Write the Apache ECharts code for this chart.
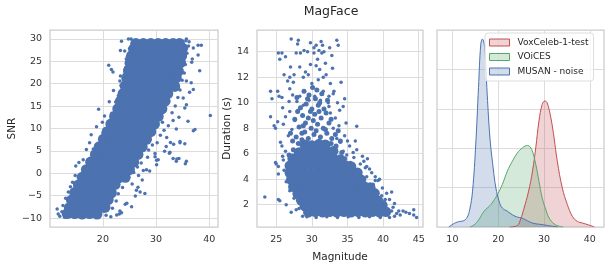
<!DOCTYPE html>
<html>
  <head>
    <meta charset="utf-8" />
    <title>MagFace</title>
    <script src="https://cdn.jsdelivr.net/npm/echarts@6/dist/echarts.min.js"></script>
  </head>
  <body style="margin:0">
    <div id="main" style="width:611px;height:268px;"></div>
    <script type="text/javascript">
      // tick labels
      var snrTicks = [-10, -5, 0, 5, 10, 15, 20, 25, 30];
      var magTicksA = [20, 30, 40];
      var magTicksB = [25, 30, 35, 40, 45];
      var durTicks = [2, 4, 6, 8, 10, 12, 14];
      var kdeXTicks = [10, 20, 30, 40];
      var kdeYTicks = [0.02, 0.04, 0.06, 0.08];

      // magnitude vs SNR: dense core + scattered points
      var snrDense = [
        [13.3,-9.0],[14.7,-9.0],[16.1,-9.1],[17.5,-9.0],[18.9,-9.1],
        [13.7,-7.7],[15.0,-7.8],[16.4,-7.6],[17.8,-7.7],[19.2,-7.8],[20.4,-7.6],
        [14.1,-6.0],[15.4,-6.1],[16.8,-5.9],[18.2,-6.0],[19.6,-6.1],[21.0,-5.9],
        [14.7,-4.3],[16.0,-4.2],[17.4,-4.4],[18.8,-4.3],[20.2,-4.2],[21.6,-4.4],
        [15.4,-2.6],[16.7,-2.7],[18.1,-2.5],[19.5,-2.6],[20.9,-2.7],[22.3,-2.5],
        [16.1,-0.9],[17.4,-0.8],[18.8,-1.0],[20.2,-0.9],[21.6,-0.8],[23.0,-1.0],[24.2,-0.9],
        [16.9,0.8],[18.3,0.9],[19.7,0.7],[21.1,0.8],[22.5,0.9],[23.9,0.7],[25.0,0.8],
        [17.7,2.5],[19.1,2.4],[20.5,2.6],[21.9,2.5],[23.3,2.4],[24.7,2.6],[25.8,2.5],
        [18.6,4.2],[19.9,4.3],[21.3,4.1],[22.7,4.2],[24.1,4.3],[25.5,4.1],[26.6,4.2],
        [19.3,5.9],[20.7,5.8],[22.1,6.0],[23.5,5.9],[24.9,5.8],[26.3,6.0],[27.4,5.9],
        [20.1,7.6],[21.5,7.7],[22.9,7.5],[24.3,7.6],[25.7,7.7],[27.1,7.5],[28.2,7.6],
        [20.8,9.3],[22.2,9.2],[23.6,9.4],[25.0,9.3],[26.4,9.2],[27.8,9.4],[29.0,9.3],
        [21.5,11.0],[22.9,11.1],[24.3,10.9],[25.7,11.0],[27.1,11.1],[28.5,10.9],[29.7,11.0],
        [22.2,12.7],[23.6,12.6],[25.0,12.8],[26.4,12.7],[27.8,12.6],[29.2,12.8],[30.4,12.7],
        [22.8,14.4],[24.2,14.5],[25.6,14.3],[27.0,14.4],[28.4,14.5],[29.8,14.3],[31.1,14.4],
        [23.3,16.1],[24.7,16.0],[26.1,16.2],[27.5,16.1],[28.9,16.0],[30.3,16.2],[31.7,16.1],
        [23.8,17.8],[25.2,17.9],[26.6,17.7],[28.0,17.8],[29.4,17.9],[30.8,17.7],[32.2,17.8],
        [24.2,19.5],[25.6,19.4],[27.0,19.6],[28.4,19.5],[29.8,19.4],[31.2,19.6],[32.6,19.5],[33.5,19.4],
        [24.5,21.2],[25.9,21.3],[27.3,21.1],[28.7,21.2],[30.1,21.3],[31.5,21.1],[32.9,21.2],[33.8,21.3],
        [24.8,22.9],[26.2,22.8],[27.6,23.0],[29.0,22.9],[30.4,22.8],[31.8,23.0],[33.2,22.9],[34.2,22.8],
        [25.1,24.6],[26.5,24.7],[27.9,24.5],[29.3,24.6],[30.7,24.7],[32.1,24.5],[33.5,24.6],[34.6,24.7],
        [25.4,26.3],[26.8,26.2],[28.2,26.4],[29.6,26.3],[31.0,26.2],[32.4,26.4],[33.8,26.3],[34.8,26.2],
        [25.8,27.8],[27.2,27.9],[28.6,27.7],[30.0,27.8],[31.4,27.9],[32.8,27.7],[34.2,27.8],[35.0,27.9],
        [26.2,29.0],[27.6,29.0],[29.0,29.0],[30.4,29.0],[31.8,29.0],[33.2,29.0],[34.4,29.0]
      ];
      var snrSparse = [
        [11.4,-8.0],[11.6,-9.1],[11.9,-9.6],[12.3,-8.6],[12.8,-9.8],[12.5,-7.2],[13.0,-5.6],[13.5,-4.2],
        [13.9,-3.0],[14.3,-2.0],[14.8,-0.5],[14.9,1.6],[15.5,2.4],[16.3,3.0],[16.9,5.3],[17.5,6.8],
        [18.2,5.4],[17.8,8.6],[18.8,10.4],[19.2,14.3],[19.9,11.4],[20.3,12.8],[21.1,24.1],[21.6,23.2],
        [21.9,22.6],[21.2,16.0],[22.0,18.5],[23.3,21.7],[23.2,20.6],[23.7,18.3],[23.3,27.4],[24.1,27.3],
        [23.5,29.5],[24.4,25.5],[25.3,30.0],[24.8,30.0],[35.7,30.0],[36.2,29.4],[37.0,28.0],[37.9,28.6],
        [38.5,28.6],[37.9,26.4],[36.8,25.5],[36.7,24.8],[38.2,22.9],[35.7,20.6],[36.6,20.2],[37.0,18.7],
        [36.3,18.1],[35.1,16.8],[35.7,15.3],[35.4,14.6],[36.0,11.6],[40.2,12.9],[37.0,9.5],[37.3,9.8],
        [33.8,9.9],[34.5,7.1],[35.4,6.6],[34.5,6.8],[33.3,6.5],[33.2,3.3],[34.3,3.3],[33.8,2.7],
        [35.7,2.7],[35.5,2.1],[33.9,3.2],[32.6,4.7],[31.6,4.9],[32.5,4.5],[31.9,6.0],[32.7,6.9],
        [30.1,1.9],[30.4,3.0],[29.8,3.7],[29.8,4.4],[30.1,2.9],[28.2,0.8],[28.8,0.5],[27.6,0.6],
        [26.7,-0.5],[27.4,-1.5],[26.6,-3.1],[26.3,-3.8],[27.0,-4.2],[27.9,-4.5],[26.1,-5.1],[25.4,-7.5],
        [24.5,-6.7],[24.2,-6.9],[23.2,-8.4],[23.5,-8.8],[22.6,-9.3],[23.1,-9.1],[22.5,-6.2],[21.5,-9.7],
        [20.6,-9.4],[20.2,-8.5],[21.8,-7.8],[22.9,-4.6],[23.7,-3.2],[24.6,-1.6],[25.5,-2.4],[25.8,0.2],
        [26.5,1.4],[27.2,2.3],[28.4,3.6],[28.6,5.2],[29.3,6.3],[30.2,6.8],[30.8,8.5],[31.5,9.6],
        [32.3,10.6],[33.2,11.8],[33.0,13.5],[33.6,15.0],[34.1,16.9],[34.5,18.6],[34.9,20.8],[35.3,22.4],
        [35.5,24.3],[35.8,26.8],[36.1,28.4],[35.6,29.6],[34.3,12.5],[31.2,11.4],[32.0,8.0],[34.0,21.5],
        [19.6,4.4],[18.7,2.2],[17.3,0.3],[16.4,-1.6],[15.6,-3.5],[20.6,7.5],[20.0,9.0],[21.1,10.6],
        [21.7,13.4],[22.4,15.9],[22.9,17.3],[23.4,19.6],[24.0,22.0],[24.3,23.6],[24.6,26.0],[25.0,27.8],
        [25.5,29.0]
      ];

      // magnitude vs duration
      var durDense = [
        [29.5,1.4],[30.5,1.45],[31.5,1.4],[32.5,1.45],[33.5,1.4],[34.5,1.45],[35.5,1.4],[36.5,1.45],[37.5,1.4],[38.5,1.45],[39.5,1.4],[40.4,1.45],
        [29.0,1.9],[30.0,1.85],[31.0,1.9],[32.0,1.95],[33.0,1.9],[34.0,1.85],[35.0,1.9],[36.0,1.95],[37.0,1.9],[38.0,1.85],[39.0,1.9],[39.9,1.95],
        [28.5,2.35],[29.5,2.4],[30.5,2.35],[31.5,2.3],[32.5,2.35],[33.5,2.4],[34.5,2.35],[35.5,2.3],[36.5,2.35],[37.5,2.4],[38.5,2.35],[39.3,2.3],
        [28.0,2.85],[29.0,2.8],[30.0,2.85],[31.0,2.9],[32.0,2.85],[33.0,2.8],[34.0,2.85],[35.0,2.9],[36.0,2.85],[37.0,2.8],[38.0,2.85],[38.8,2.9],
        [27.4,3.4],[28.4,3.45],[29.4,3.4],[30.4,3.35],[31.4,3.4],[32.4,3.45],[33.4,3.4],[34.4,3.35],[35.4,3.4],[36.4,3.45],[37.4,3.4],[38.2,3.35],
        [27.1,3.95],[28.0,3.9],[29.0,3.95],[30.0,4.0],[31.0,3.95],[32.0,3.9],[33.0,3.95],[34.0,4.0],[35.0,3.95],[36.0,3.9],[36.9,3.95],
        [26.9,4.5],[27.8,4.55],[28.8,4.5],[29.8,4.45],[30.8,4.5],[31.8,4.55],[32.8,4.5],[33.8,4.45],[34.8,4.5],[35.7,4.55],[36.4,4.5],
        [26.9,5.05],[27.8,5.0],[28.8,5.05],[29.8,5.1],[30.8,5.05],[31.8,5.0],[32.8,5.05],[33.8,5.1],[34.8,5.05],[35.5,5.0],
        [27.3,5.6],[28.0,5.65],[29.0,5.6],[30.0,5.55],[31.0,5.6],[32.0,5.65],[33.0,5.6],[34.0,5.55],
        [28.2,6.1],[29.2,6.15],[30.2,6.2],[31.2,6.15],[32.2,6.1],[33.0,6.2],
        [29.0,6.7],[30.0,6.65],[31.0,6.75],[31.9,6.7]
      ];
      // medium-density band above the core
      var durMid = [
        [27.8,7.3],[28.6,7.6],[29.5,7.2],[30.3,7.5],[31.2,7.3],[32.1,7.6],[32.8,7.2],[28.2,8.1],
        [29.1,8.4],[29.9,8.0],[30.8,8.3],[31.6,8.0],[32.4,8.4],[27.6,8.7],[28.7,9.0],[29.5,8.8],
        [30.4,9.1],[31.3,8.8],[32.0,9.2],[28.4,9.6],[29.2,9.9],[30.0,9.5],[30.9,9.8],[31.7,9.5],
        [29.6,10.6],[30.5,10.3],[31.4,10.7],[28.9,10.9],[30.1,11.2],[29.0,7.7],[31.9,7.9],[30.6,7.8],
        [27.3,7.0],[33.3,7.5],[28.0,9.3],[32.7,8.7],[29.8,9.3],[31.0,9.3],[30.2,8.6],[28.8,8.2],
        [31.1,10.0],[29.4,10.3],[30.7,11.0],[32.2,10.2],[27.9,10.4],[34.0,7.0],[33.7,7.8],[27.0,7.6],
        [27.4,6.3],[28.1,6.8],[33.4,6.6],[34.2,6.1],[34.6,5.6],[26.8,5.9],[32.7,6.8],[28.6,7.1]
      ];
      var durSparse = [
        [27.1,15.0],[28.1,14.9],[28.0,14.6],[29.8,14.7],[30.3,14.3],[30.6,14.5],[31.3,14.8],[31.5,14.5],
        [33.5,14.9],[33.7,14.5],[25.3,13.9],[25.8,13.9],[25.5,13.4],[26.3,13.6],[27.8,13.9],[28.4,13.9],
        [28.9,14.1],[30.3,13.9],[30.8,13.4],[31.4,13.9],[31.7,14.0],[32.5,14.3],[31.9,13.1],[31.1,12.6],
        [32.0,12.2],[29.8,13.0],[29.1,12.4],[28.3,12.8],[26.9,12.0],[26.6,11.7],[27.4,11.6],[28.8,12.0],
        [29.5,12.2],[30.0,11.5],[30.9,11.8],[31.6,12.0],[32.6,11.5],[34.1,11.6],[24.2,10.9],[24.4,10.3],
        [25.2,10.9],[25.4,10.5],[25.8,10.4],[26.9,11.1],[27.3,10.6],[26.8,10.1],[28.3,10.5],[27.9,10.1],
        [31.6,10.9],[32.4,10.5],[33.0,10.7],[33.6,10.0],[34.6,10.3],[34.4,9.7],[33.9,9.4],[32.4,9.7],
        [24.2,8.9],[24.7,8.2],[24.9,8.0],[25.2,8.5],[26.3,8.9],[26.9,9.3],[25.6,6.9],[25.8,6.6],
        [24.9,5.3],[25.0,5.2],[25.3,5.0],[25.3,4.4],[25.9,5.8],[23.4,2.6],[25.3,2.4],[25.5,2.3],
        [26.4,2.0],[27.1,1.4],[27.8,1.6],[28.3,2.1],[36.3,8.15],[36.1,7.0],[35.8,6.1],[37.3,5.4],
        [37.7,5.0],[38.1,4.8],[39.3,3.9],[39.5,4.0],[39.1,3.0],[40.5,2.9],[41.2,3.0],[40.9,2.4],
        [41.6,2.1],[42.2,1.5],[42.8,1.5],[43.2,1.4],[43.7,1.3],[44.3,1.2],[44.7,1.0],[44.3,1.6],
        [42.4,1.2],[41.4,1.8],[40.1,2.0],[40.3,2.4],[38.9,4.2],[38.4,4.5],[37.1,5.8],[37.8,5.6],
        [35.4,5.3],[34.9,5.9],[34.4,6.2],[33.5,7.2],[34.0,6.9],[33.0,8.0],[41.6,1.1],[41.9,1.3],
        [40.9,1.0],[41.2,1.5],[39.9,3.3],[38.6,3.6],[37.7,4.2],[36.8,5.2],[35.9,5.7],[35.3,6.6],
        [34.6,7.4],[33.8,8.2],[33.3,8.8],[32.6,9.2],[32.3,10.0],[31.2,10.2],[30.4,10.5],[29.6,10.2],
        [28.8,9.8],[28.1,9.4],[27.6,8.6],[27.2,7.9],[26.7,7.4],[26.3,6.2],[26.0,5.5],[26.1,4.7],
        [26.4,3.8],[26.9,3.1],[27.5,2.5],[28.2,1.7],[28.7,1.1],[27.0,12.8],[29.4,14.0],[32.9,12.7],
        [31.0,14.1],[26.1,12.2],[25.9,9.6],[33.1,10.9],[29.3,1.05],[30.6,1.0],[32.1,1.05],[33.6,1.0],
        [35.1,1.05],[36.6,1.0],[38.1,1.05],[39.6,1.0],[39.8,2.7],[38.9,3.9],[37.5,4.9],[36.3,6.3],
        [35.0,7.0],[34.8,8.4],[27.5,12.2],[30.6,12.9],[32.8,13.7],[26.0,8.3]
      ];

      // magnitude density per dataset
      var kdeNames = ["VoxCeleb-1-test", "VOiCES", "MUSAN - noise"];
      var voxKde = [
        [22.5,0],[24.2,0.0008],[24.9,0.004],[25.6,0.0092],[26.6,0.0178],[27.5,0.0284],[28.2,0.0402],
        [28.9,0.0538],[29.6,0.0622],[30.2,0.064],[30.7,0.063],[31.5,0.0554],[32.2,0.0452],[32.9,0.0334],
        [34.0,0.0198],[35.1,0.0114],[36.2,0.0054],[37.3,0.0028],[38.4,0.002],[39.8,0.001],[41.0,0]
      ];
      var voicesKde = [
        [13.8,0],[14.7,0.001],[15.8,0.0038],[16.9,0.008],[18.4,0.0114],[19.8,0.0164],[20.9,0.0216],
        [22.0,0.0284],[23.1,0.0334],[24.2,0.0376],[25.3,0.0402],[26.4,0.0414],[27.3,0.0394],[28.2,0.0318],
        [28.9,0.0232],[29.6,0.0148],[30.4,0.0088],[31.1,0.0046],[32.2,0.0016],[33.3,0.0004],[34.2,0]
      ];
      var musanKde = [
        [9.2,0],[9.8,0.001],[10.7,0.0022],[11.6,0.0028],[12.5,0.0032],[13.2,0.0048],[13.8,0.009],
        [14.4,0.0182],[15.1,0.042],[15.7,0.0708],[16.2,0.0928],[16.55,0.0954],[17.05,0.091],[17.6,0.0674],
        [18.2,0.0452],[18.9,0.03],[19.5,0.0198],[20.2,0.013],[20.9,0.0096],[22.0,0.008],[23.1,0.0062],
        [24.2,0.005],[25.1,0.0046],[26.0,0.0036],[27.5,0.002],[29.6,0.0012],[31.8,0.0004],[33.0,0]
      ];

      var textColor = "#262626";
      var font = "DejaVu Sans";

      function makeAxis(grid, min, max, ticks, showLabel) {
        return {
          type: "value",
          gridIndex: grid,
          min: min,
          max: max,
          axisLine: { show: false },
          axisTick: { show: false, customValues: ticks },
          axisLabel: {
            show: showLabel,
            customValues: ticks,
            color: "#333",
            fontSize: 9.5,
            fontFamily: font,
            margin: 8,
            // matplotlib-style minus sign
            formatter: function (v) {
              return String(v).replace("-", "\u2212");
            }
          },
          splitLine: { show: true, lineStyle: { color: "#dcdcdc", width: 1 } },
          nameTextStyle: { color: textColor, fontSize: 10.5, fontFamily: font }
        };
      }

      var gridStyle = { show: true, borderColor: "#cccccc", borderWidth: 1.25, backgroundColor: "#fff" };

      var xAxes = [
        makeAxis(0, 10.06, 41.64, magTicksA, true),
        makeAxis(1, 22.3, 45.6, magTicksB, true),
        makeAxis(2, 6.64, 43.1, kdeXTicks, true)
      ];
      xAxes[1].name = "Magnitude";
      xAxes[1].nameLocation = "middle";
      xAxes[1].nameGap = 25;

      var yAxes = [
        makeAxis(0, -12, 32, snrTicks, true),
        makeAxis(1, 0.25, 15.7, durTicks, true),
        makeAxis(2, 0, 0.1, kdeYTicks, false)
      ];
      yAxes[0].name = "SNR";
      yAxes[0].nameLocation = "middle";
      yAxes[0].nameGap = 26;
      yAxes[1].name = "Duration (s)";
      yAxes[1].nameLocation = "middle";
      yAxes[1].nameGap = 23;

      var colors = { red: "#c44e52", green: "#55a868", blue: "#4c72b0" };

      function scatter(idx, data, size) {
        return {
          type: "scatter",
          xAxisIndex: idx,
          yAxisIndex: idx,
          data: data,
          symbolSize: size,
          itemStyle: { color: colors.blue, opacity: 1 },
          silent: true
        };
      }

      function kde(name, data, color, fill) {
        return {
          name: name,
          type: "line",
          xAxisIndex: 2,
          yAxisIndex: 2,
          data: data,
          smooth: 0.4,
          showSymbol: false,
          lineStyle: { color: color, width: 1 },
          itemStyle: { color: color },
          areaStyle: { color: fill, opacity: 1 },
          silent: true
        };
      }

      var myChart = echarts.init(document.getElementById("main"));
      var option = {
        backgroundColor: "#fff",
        animation: false,
        grid: [
          Object.assign({ left: 50, top: 30, width: 168, height: 197 }, gridStyle),
          Object.assign({ left: 257, top: 30, width: 166, height: 197 }, gridStyle),
          Object.assign({ left: 437, top: 30, width: 167, height: 197 }, gridStyle)
        ],
        xAxis: xAxes,
        yAxis: yAxes,
        graphic: [
          {
            type: "text",
            x: 331,
            y: 12,
            style: {
              text: "MagFace",
              fontSize: 12.5,
              fontFamily: font,
              fill: textColor,
              align: "center",
              verticalAlign: "middle",
              textAlign: "center",
              textVerticalAlign: "middle"
            }
          }
        ],
        legend: {
          left: 485,
          top: 33,
          orient: "vertical",
          icon: "rect",
          itemWidth: 20,
          itemHeight: 7,
          itemGap: 3.5,
          padding: [4, 5, 4, 4],
          backgroundColor: "rgba(255,255,255,0.8)",
          borderColor: "#dddddd",
          borderWidth: 1,
          borderRadius: 3,
          selectedMode: false,
          textStyle: { fontSize: 9, color: textColor, fontFamily: font, lineHeight: 11, padding: [0, 0, 0, 3] },
          data: [
            { name: kdeNames[0], itemStyle: { color: "rgba(196,78,82,0.25)", borderColor: colors.red, borderWidth: 1 } },
            { name: kdeNames[1], itemStyle: { color: "rgba(85,168,104,0.25)", borderColor: colors.green, borderWidth: 1 } },
            { name: kdeNames[2], itemStyle: { color: "rgba(76,114,176,0.25)", borderColor: colors.blue, borderWidth: 1 } }
          ]
        },
        series: [
          scatter(0, snrDense, 11),
          scatter(0, snrSparse, 3.5),
          scatter(1, durDense, 10.5),
          scatter(1, durMid, 5),
          scatter(1, durSparse, 3.5),
          kde(kdeNames[0], voxKde, colors.red, "rgba(196,78,82,0.25)"),
          kde(kdeNames[1], voicesKde, colors.green, "rgba(85,168,104,0.25)"),
          kde(kdeNames[2], musanKde, colors.blue, "rgba(76,114,176,0.25)")
        ]
      };
      myChart.setOption(option);
    </script>
  </body>
</html>
